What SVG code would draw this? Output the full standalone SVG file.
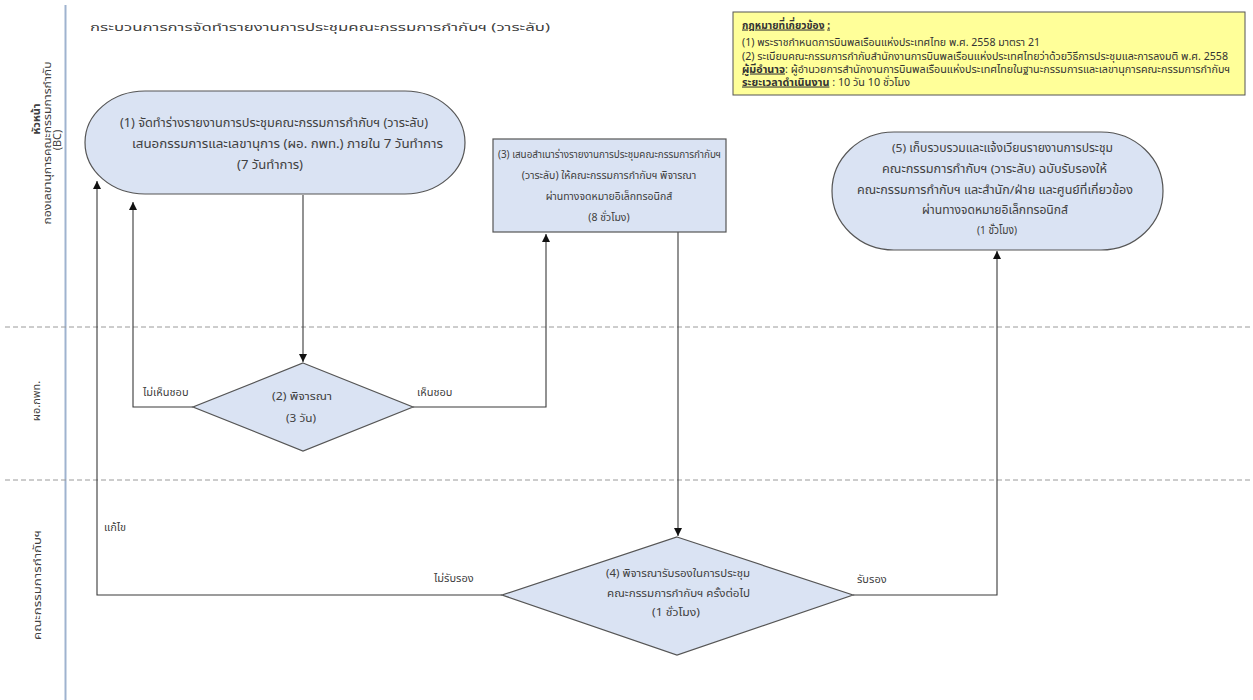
<svg xmlns="http://www.w3.org/2000/svg" width="1253" height="700" viewBox="0 0 1253 700">
<defs>
<style>
text{font-family:"Noto Sans","Noto Sans Thai","DejaVu Sans",sans-serif;fill:#404040;font-size:11px}
.node{fill:#dae3f3;stroke:#555;stroke-width:1.2}
.c{fill:none;stroke:#3a3a3a;stroke-width:1.1;marker-end:url(#arr)}
.lane{stroke:#9a9a9a;stroke-width:1;stroke-dasharray:5,3}
.mid{text-anchor:middle}
.b{font-weight:bold}
.u{text-decoration:underline}
.lg{font-size:10.5px;fill:#333}
.n1{font-size:12.5px}
.n3{font-size:10.5px}
.n5{font-size:11.5px}
</style>
<marker id="arr" viewBox="0 0 10 10" refX="10" refY="5" markerWidth="8" markerHeight="8" markerUnits="userSpaceOnUse" orient="auto">
<path d="M0,0 L10,5 L0,10 z" fill="#111"/>
</marker>
</defs>
<rect width="1253" height="700" fill="#fff"/>
<g id="lanes">
<line x1="65.5" y1="5" x2="65.5" y2="700" stroke="#9fb3cf" stroke-width="2"/>
<line class="lane" x1="5" y1="327" x2="1253" y2="327"/>
<line class="lane" x1="5" y1="480" x2="1253" y2="480"/>
<text class="mid b" font-size="13" transform="translate(40,119) rotate(-90)">หัวหน้า</text>
<text class="mid" font-size="12" textLength="163" lengthAdjust="spacingAndGlyphs" transform="translate(51,143) rotate(-90)">กองเลขานุการคณะกรรมการกำกับ</text>
<text class="mid" font-size="11.5" transform="translate(61,140) rotate(-90)">(BC)</text>
<text class="mid" font-size="12.5" transform="translate(40,401) rotate(-90)">ผอ.กพท.</text>
<text class="mid" font-size="12.5" textLength="110" lengthAdjust="spacingAndGlyphs" transform="translate(41,585) rotate(-90)">คณะกรรมการกำกับฯ</text>
</g>
<text x="90" y="31" font-size="17" fill="#222" textLength="460" lengthAdjust="spacingAndGlyphs">กระบวนการการจัดทำรายงานการประชุมคณะกรรมการกำกับฯ  (วาระลับ)</text>
<g id="legend">
<rect x="733" y="12" width="512" height="83" fill="#ffff99" stroke="#555" stroke-width="1"/>
<text class="lg" x="742" y="28.5" textLength="88" lengthAdjust="spacingAndGlyphs"><tspan class="b u">กฎหมายที่เกี่ยวข้อง</tspan> <tspan class="b u">:</tspan></text>
<text class="lg" x="742" y="45.5" textLength="298" lengthAdjust="spacingAndGlyphs">(1) พระราชกำหนดการบินพลเรือนแห่งประเทศไทย พ.ศ. 2558 มาตรา 21</text>
<text class="lg" x="742" y="59.5" textLength="486" lengthAdjust="spacingAndGlyphs">(2) ระเบียบคณะกรรมการกำกับสำนักงานการบินพลเรือนแห่งประเทศไทยว่าด้วยวิธีการประชุมและการลงมติ  พ.ศ. 2558</text>
<text class="lg" x="742" y="72.5" textLength="488" lengthAdjust="spacingAndGlyphs"><tspan class="b u">ผู้มีอำนาจ</tspan>: ผู้อำนวยการสำนักงานการบินพลเรือนแห่งประเทศไทยในฐานะกรรมการและเลขานุการคณะกรรมการกำกับฯ</text>
<text class="lg" x="742" y="85.5" textLength="168" lengthAdjust="spacingAndGlyphs"><tspan class="b u">ระยะเวลาดำเนินงาน</tspan>  : 10 วัน 10 ชั่วโมง</text>
</g>
<g id="connectors">
<path class="c" d="M303,195 V362"/>
<path class="c" d="M193,407 H133 V202"/>
<path class="c" d="M413,407 H546 V234"/>
<path class="c" d="M678,232 V536"/>
<path class="c" d="M502,595 H97 V181"/>
<path class="c" d="M853,595 H997 V251"/>
<text x="143" y="396">ไม่เห็นชอบ</text>
<text x="417" y="396">เห็นชอบ</text>
<text x="104" y="531">แก้ไข</text>
<text x="434" y="582">ไม่รับรอง</text>
<text x="857" y="583">รับรอง</text>
</g>
<g id="n1">
<rect class="node" x="85" y="91" width="380" height="103" rx="60" ry="51.5"/>
<text class="n1" x="120" y="127" textLength="308" lengthAdjust="spacingAndGlyphs">(1) จัดทำร่างรายงานการประชุมคณะกรรมการกำกับฯ (วาระลับ)</text>
<text class="n1" x="132" y="148" textLength="311" lengthAdjust="spacingAndGlyphs">เสนอกรรมการและเลขานุการ (ผอ. กพท.) ภายใน 7 วันทำการ</text>
<text class="n1" x="237" y="169" textLength="66" lengthAdjust="spacingAndGlyphs">(7 วันทำการ)</text>
</g>
<g id="n2">
<polygon class="node" points="303,363 413,407 303,451 193,407"/>
<text x="272" y="400" textLength="60" lengthAdjust="spacingAndGlyphs">(2) พิจารณา</text>
<text x="286" y="422" textLength="30" lengthAdjust="spacingAndGlyphs">(3 วัน)</text>
</g>
<g id="n3">
<rect class="node" x="493" y="139" width="233" height="93"/>
<text class="n3" x="498" y="157.5" textLength="223" lengthAdjust="spacingAndGlyphs">(3) เสนอสำเนาร่างรายงานการประชุมคณะกรรมการกำกับฯ</text>
<text class="mid n3" x="609" y="178.5">(วาระลับ) ให้คณะกรรมการกำกับฯ พิจารณา</text>
<text class="mid n3" x="609" y="199.5">ผ่านทางจดหมายอิเล็กทรอนิกส์</text>
<text class="mid n3" x="609" y="220.5">(8 ชั่วโมง)</text>
</g>
<g id="n4">
<polygon class="node" points="677,537 853,595 677,655 502,595"/>
<text x="606" y="577" textLength="144" lengthAdjust="spacingAndGlyphs">(4) พิจารณารับรองในการประชุม</text>
<text x="607" y="597" textLength="143" lengthAdjust="spacingAndGlyphs">คณะกรรมการกำกับฯ  ครั้งต่อไป</text>
<text x="652" y="616" textLength="48" lengthAdjust="spacingAndGlyphs">(1 ชั่วโมง)</text>
</g>
<g id="n5">
<rect class="node" x="832" y="132" width="331" height="118" rx="62" ry="59"/>
<text class="n5" x="892" y="152" textLength="221" lengthAdjust="spacingAndGlyphs">(5) เก็บรวบรวมและแจ้งเวียนรายงานการประชุม</text>
<text class="n5" x="882" y="173" textLength="225" lengthAdjust="spacingAndGlyphs">คณะกรรมการกำกับฯ (วาระลับ) ฉบับรับรองให้</text>
<text class="n5" x="857" y="194" textLength="276" lengthAdjust="spacingAndGlyphs">คณะกรรมการกำกับฯ และสำนัก/ฝ่าย และศูนย์ที่เกี่ยวข้อง</text>
<text class="n5" x="922" y="214" textLength="146" lengthAdjust="spacingAndGlyphs">ผ่านทางจดหมายอิเล็กทรอนิกส์</text>
<text class="n5" x="977" y="234" textLength="40" lengthAdjust="spacingAndGlyphs">(1 ชั่วโมง)</text>
</g>
</svg>
